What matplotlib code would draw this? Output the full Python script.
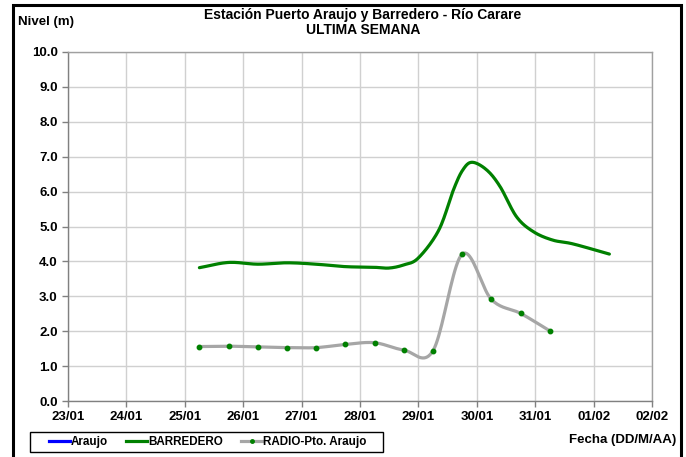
import numpy as np
import matplotlib
matplotlib.use("Agg")
import matplotlib.pyplot as plt
from matplotlib.patches import Rectangle
from matplotlib.lines import Line2D

# day numbers: 23 = 23/01, 32 = 01/02
tick_days = [23, 24, 25, 26, 27, 28, 29, 30, 31, 32, 33]
tick_labels = ["23/01", "24/01", "25/01", "26/01", "27/01", "28/01",
               "29/01", "30/01", "31/01", "01/02", "02/02"]

barredero_t = [25.25, 25.75, 26.25, 26.75, 27.25, 27.75, 28.25, 28.5, 28.75,
               29.0, 29.35, 29.6, 29.76, 29.92, 30.17, 30.4, 30.68, 30.97,
               31.3, 31.65, 32.27]
barredero_v = [3.82, 3.97, 3.92, 3.96, 3.92, 3.85, 3.83, 3.81, 3.9,
               4.1, 4.9, 6.05, 6.62, 6.84, 6.62, 6.14, 5.28, 4.85,
               4.61, 4.5, 4.21]

radio_t = [25.25, 25.75, 26.25, 26.75, 27.25, 27.75, 28.25, 28.75, 29.25,
           29.75, 30.25, 30.75, 31.25]
radio_v = [1.56, 1.57, 1.55, 1.53, 1.53, 1.62, 1.67, 1.46, 1.44,
           4.21, 2.91, 2.51, 2.01]


def smooth(x, y, n=20):
    # Catmull-Rom style smoothing like Excel "smoothed line"
    x = np.asarray(x, float)
    y = np.asarray(y, float)
    px = np.concatenate([[2 * x[0] - x[1]], x, [2 * x[-1] - x[-2]]])
    py = np.concatenate([[2 * y[0] - y[1]], y, [2 * y[-1] - y[-2]]])
    xs, ys = [], []
    s = np.linspace(0, 1, n, endpoint=False)
    for i in range(1, len(px) - 2):
        p0, p1, p2, p3 = [np.array([px[j], py[j]]) for j in range(i - 1, i + 3)]
        b1 = p1 + (p2 - p0) / 6
        b2 = p2 - (p3 - p1) / 6
        pts = ((1 - s) ** 3)[:, None] * p1 + (3 * (1 - s) ** 2 * s)[:, None] * b1 \
            + (3 * (1 - s) * s ** 2)[:, None] * b2 + (s ** 3)[:, None] * p2
        xs.extend(pts[:, 0])
        ys.extend(pts[:, 1])
    xs.append(x[-1])
    ys.append(y[-1])
    return xs, ys


plt.rcParams['font.family'] = ['Liberation Sans', 'DejaVu Sans']
plt.rcParams['font.weight'] = 'bold'

fig = plt.figure(figsize=(6.86, 4.57), dpi=100)
ax = fig.add_axes([68 / 686, 56 / 457, 584 / 686, 349 / 457])

green = '#008000'
gray = '#a6a6a6'

bx, by = smooth(barredero_t, barredero_v)
ax.plot(bx, by, color=green, lw=2.3, solid_capstyle='round', zorder=3)
rx, ry = smooth(radio_t, radio_v)
ax.plot(rx, ry, color=gray, lw=2.3, solid_capstyle='round', zorder=3)
ax.plot(radio_t, radio_v, 'o', color=green, ms=3.2, zorder=4)

ax.set_xlim(23, 33)
ax.set_ylim(0, 10)
ax.set_xticks(tick_days)
ax.set_xticklabels(tick_labels)
ax.set_yticks(np.arange(0, 10.1, 1))
ax.set_yticklabels([f"{v:.1f}" for v in np.arange(0, 10.1, 1)])
ax.tick_params(axis='both', labelsize=9.5, colors='#808080', labelcolor='black',
               length=4, width=1, direction='out')
ax.tick_params(axis='x', pad=3)
for lab in ax.get_xticklabels() + ax.get_yticklabels():
    lab.set_fontweight('bold')
ax.grid(True, color='#d0d0d0', lw=1)
ax.set_axisbelow(True)
for sp in ax.spines.values():
    sp.set_color('#a0a0a0')
    sp.set_linewidth(1)
ax.spines['left'].set_color('#808080')
ax.spines['bottom'].set_color('#808080')

fig.text(0.529, 1 - 15 / 457, "Estación Puerto Araujo y Barredero - Río Carare",
         ha='center', va='center', fontsize=10, fontweight='bold')
fig.text(0.529, 1 - 30 / 457, "ULTIMA SEMANA",
         ha='center', va='center', fontsize=10, fontweight='bold')
fig.text(18 / 686, 1 - 22 / 457, "Nivel (m)", ha='left', va='center',
         fontsize=9.5, fontweight='bold')
fig.text(676 / 686, 1 - 440 / 457, "Fecha (DD/M/AA)", ha='right', va='center',
         fontsize=9.5, fontweight='bold')

handles = [Line2D([], [], color='#0000ff', lw=2.3),
           Line2D([], [], color=green, lw=2.3),
           Line2D([], [], color=gray, lw=2.3, marker='o', ms=2.5,
                  markerfacecolor=green, markeredgecolor=green)]
leg = fig.legend(handles, ["Araujo", "BARREDERO", "RADIO-Pto. Araujo"],
                 loc='center left', bbox_to_anchor=(49 / 686, 1 - 442 / 457),
                 ncol=3, fontsize=8.4, frameon=False, handlelength=1.8,
                 handletextpad=0.05, columnspacing=1.6, borderpad=0,
                 borderaxespad=0)
for t in leg.get_texts():
    t.set_fontweight('bold')

# legend box
fig.patches.append(Rectangle((30 / 686, 1 - 452 / 457), 353 / 686, 20 / 457,
                             transform=fig.transFigure, fill=False,
                             edgecolor='black', lw=1))

# outer chart border
fig.patches.append(Rectangle((13 / 686, -0.05), 668 / 686, 1.05 - 5 / 457,
                             transform=fig.transFigure, fill=False,
                             edgecolor='black', lw=2.2))

fig.savefig("out.png", dpi=100)
